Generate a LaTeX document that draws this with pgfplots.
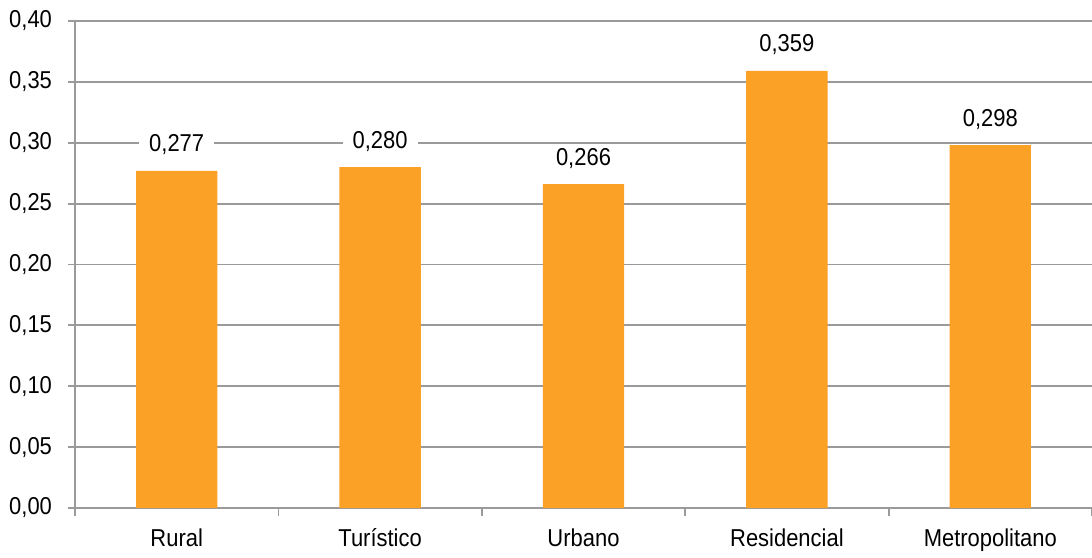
\documentclass[border=0pt]{standalone}
\usepackage{fontspec}
\setmainfont{Liberation Sans}[FakeStretch=0.9]
\usepackage{pgfplots}
\pgfplotsset{compat=1.18}
\definecolor{barorange}{HTML}{FBA126}
\definecolor{gridgray}{HTML}{9A9A9A}
\begin{document}
\begin{tikzpicture}
\begin{axis}[
  scale only axis,
  width=508.5pt, height=243.5pt,
  xmin=-0.5, xmax=4.5,
  ymin=0, ymax=0.4,
  ytick={0,0.05,...,0.401},
  xtick={0,1,2,3,4},
  xticklabels={Rural,Turístico,Urbano,Residencial,Metropolitano},
  minor xtick={-0.5,0.5,1.5,2.5,3.5,4.5},
  major x tick style={draw=none},
  tick align=outside,
  major tick length=3.5pt,
  minor tick length=4pt,
  axis x line*=bottom,
  axis y line*=left,
  axis line style={gridgray, line width=0.9pt},
  every tick/.style={gridgray, line width=0.9pt},
  ymajorgrids,
  major grid style={gridgray, line width=0.9pt},
  font=\fontsize{12.2}{14}\selectfont,
  /pgf/number format/assume math mode=true,
  yticklabel style={/pgf/number format/fixed, /pgf/number format/fixed zerofill, /pgf/number format/precision=2, /pgf/number format/use comma, xshift=-4.5pt},
  scaled y ticks=false,
  xticklabel style={anchor=north, text height=9pt, text depth=2pt, yshift=-3pt},
  ybar,
  bar width=0.4,
  nodes near coords={\pgfmathprintnumber[fixed,fixed zerofill,precision=3,use comma]{\pgfplotspointmeta}},
  every node near coord/.append style={anchor=base, yshift=9.5pt, fill=white, inner xsep=5pt, inner ysep=1pt, font=\fontsize{12.2}{14}\selectfont},
  clip=false,
]
\addplot[fill=barorange, draw=none] coordinates {(0,0.277) (1,0.280) (2,0.266) (3,0.359) (4,0.298)};
\end{axis}
\pgfresetboundingbox
\path (-37.5pt,-24.5pt) rectangle (508.5pt,254pt);
\end{tikzpicture}
\end{document}
